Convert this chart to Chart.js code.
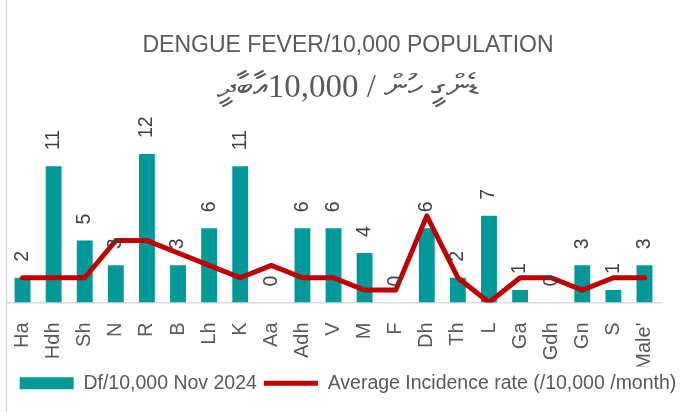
<!DOCTYPE html>
<html>
<head>
<meta charset="utf-8">
<title>Dengue fever / 10,000 population</title>
<script src="https://cdn.jsdelivr.net/npm/chart.js@4"></script>
<style>
  body { margin: 0; background: #fff; }
  canvas { display: block; }
</style>
</head>
<body>
<canvas id="dfChart" width="689" height="412"></canvas>
<script>
// atolls (x axis) and the two series
const atolls = ['Ha', 'Hdh', 'Sh', 'N', 'R', 'B', 'Lh', 'K', 'Aa', 'Adh', 'V', 'M', 'F', 'Dh', 'Th', 'L', 'Ga', 'Gdh', 'Gn', 'S', "Male'"];
const dfNov2024 = [2, 11, 5, 3, 12, 3, 6, 11, 0, 6, 6, 4, 0, 6, 2, 7, 1, 0, 3, 1, 3];
const avgIncidence = [2, 2, 2, 5, 5, 4, 3, 2, 3, 2, 2, 1, 1, 7, 2, 0, 2, 2, 1, 2, 2];
const yMin = 0;
const yMax = 15.7;

const titleEn = 'DENGUE FEVER/10,000 POPULATION';
const titleDv = 'ޑެންގީ ހުން / 10,000އާބާދީ';

const sans = '"Liberation Sans", Arial, sans-serif';

// thin grey frame line on the left edge, like the excel chart border
const leftFrame = {
    id: 'leftFrame',
    beforeDraw(chart) {
        const ctx = chart.ctx;
        ctx.save();
        ctx.strokeStyle = '#d9d9d9';
        ctx.lineWidth = 1.5;
        ctx.beginPath();
        ctx.moveTo(6.5, 0);
        ctx.lineTo(6.5, chart.height);
        ctx.stroke();
        ctx.restore();
    }
};

// rotated value labels above each bar
const barLabels = {
    id: 'barLabels',
    afterDatasetsDraw(chart) {
        const ctx = chart.ctx;
        const meta = chart.getDatasetMeta(0);
        ctx.save();
        ctx.font = '19.5px ' + sans;
        ctx.fillStyle = '#404040';
        ctx.textAlign = 'left';
        ctx.textBaseline = 'middle';
        meta.data.forEach((bar, i) => {
            ctx.save();
            ctx.translate(bar.x, bar.y - 16);
            ctx.rotate(-Math.PI / 2);
            ctx.fillText(String(dfNov2024[i]), 0, 0);
            ctx.restore();
        });
        ctx.restore();
    }
};

new Chart(document.getElementById('dfChart'), {
    type: 'bar',
    data: {
        labels: atolls,
        datasets: [
            {
                type: 'bar',
                label: 'Df/10,000 Nov 2024',
                data: dfNov2024,
                backgroundColor: '#009999',
                borderWidth: 0,
                barPercentage: 0.51,
                categoryPercentage: 1,
                pointStyle: 'rect',
                order: 2
            },
            {
                type: 'line',
                label: 'Average Incidence rate (/10,000 /month)',
                data: avgIncidence,
                borderColor: '#c00000',
                backgroundColor: '#c00000',
                borderWidth: 5,
                borderCapStyle: 'round',
                borderJoinStyle: 'round',
                pointRadius: 0,
                pointStyle: 'line',
                tension: 0,
                order: 1
            }
        ]
    },
    options: {
        responsive: false,
        animation: false,
        layout: { padding: { left: 7, right: 0, top: 0, bottom: 9 } },
        scales: {
            x: {
                grid: { display: false, drawTicks: false },
                border: { color: '#d9d9d9', width: 1.5 },
                ticks: {
                    color: '#595959',
                    font: { family: sans, size: 20 },
                    minRotation: 90,
                    maxRotation: 90,
                    padding: 20,
                    autoSkip: false
                },
                afterFit(scale) { scale.height = 64; }
            },
            y: {
                position: 'right',
                min: yMin,
                max: yMax,
                grid: { display: false },
                border: { display: false },
                ticks: { display: false },
                afterFit(scale) { scale.width = 22; }
            }
        },
        plugins: {
            title: {
                display: true,
                text: titleEn,
                color: '#595959',
                font: { family: sans, size: 23, weight: 'normal' },
                padding: { top: 32, bottom: 0 }
            },
            subtitle: {
                display: true,
                text: titleDv,
                color: '#595959',
                font: { family: '"Liberation Serif", serif', size: 33 },
                padding: { top: 9, bottom: 0 }
            },
            legend: {
                position: 'bottom',
                labels: {
                    usePointStyle: true,
                    pointStyleWidth: 54,
                    boxHeight: 12,
                    color: '#595959',
                    font: { family: sans, size: 19.5 },
                    padding: 7,
                    sort: (a, b) => a.datasetIndex - b.datasetIndex
                }
            },
            tooltip: { enabled: false }
        }
    },
    plugins: [leftFrame, barLabels]
});
</script>
</body>
</html>
